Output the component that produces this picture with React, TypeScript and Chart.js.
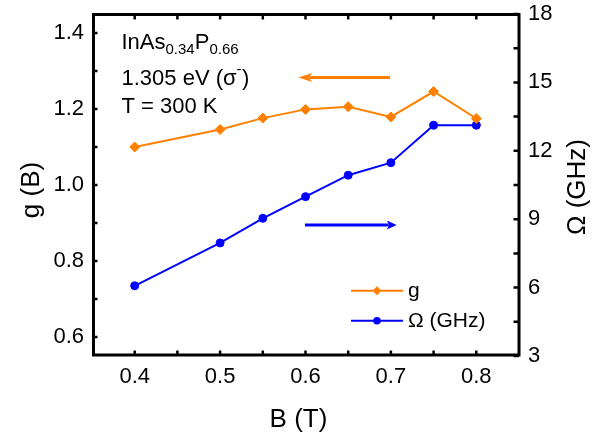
import React, { useEffect, useRef } from 'react';
import { Chart, registerables } from 'chart.js';

Chart.register(...registerables);

// ---- data ----
const bField = [0.4, 0.5, 0.55, 0.6, 0.65, 0.7, 0.75, 0.8];
const gValues = [1.1, 1.146, 1.176, 1.199, 1.206, 1.179, 1.246, 1.175];
const omegaValues = [6.08, 7.96, 9.04, 9.99, 10.93, 11.48, 13.12, 13.12];

const xTicks = [0.4, 0.5, 0.6, 0.7, 0.8];
const xMinorTicks = [0.45, 0.55, 0.65, 0.75];
const gTicks = [0.6, 0.8, 1.0, 1.2, 1.4];
const gMinorTicks = [0.7, 0.9, 1.1, 1.3];
const omegaTicks = [3, 6, 9, 12, 15, 18];
const omegaMinorTicks = [4.5, 7.5, 10.5, 13.5, 16.5];

const seriesLabels = ['g', 'Ω (GHz)'];
const xTitle = 'B (T)';
const gTitle = 'g (B)';
const omegaTitle = 'Ω (GHz)';

// arrows, in data coordinates: [tail x, tip x, y]
const gArrow = [0.699, 0.5916, 1.283];
const omegaArrow = [0.5994, 0.7068, 8.746];

const ORANGE = '#ff8000';
const BLUE = '#0000ff';
const FONT = '"Liberation Sans", Arial, Helvetica, sans-serif';

const decorPlugin = {
  id: 'decor',
  afterDraw(chart: any) {
    const { ctx, chartArea: a, scales } = chart;
    const xs = scales.x;
    const yl = scales.y;
    const yr = scales.y1;
    ctx.save();
    ctx.strokeStyle = '#000';
    ctx.lineCap = 'butt';

    // inward ticks
    const tl = 5.5;
    ctx.lineWidth = 2.5;
    ctx.beginPath();
    [...xTicks, ...xMinorTicks].forEach((v) => {
      const p = xs.getPixelForValue(v);
      ctx.moveTo(p, a.bottom);
      ctx.lineTo(p, a.bottom - tl);
      ctx.moveTo(p, a.top);
      ctx.lineTo(p, a.top + tl);
    });
    [...gTicks, ...gMinorTicks].forEach((v) => {
      const p = yl.getPixelForValue(v);
      ctx.moveTo(a.left, p);
      ctx.lineTo(a.left + tl, p);
    });
    [...omegaTicks, ...omegaMinorTicks].forEach((v) => {
      const p = yr.getPixelForValue(v);
      ctx.moveTo(a.right, p);
      ctx.lineTo(a.right - tl, p);
    });
    ctx.stroke();

    // frame
    ctx.lineWidth = 3;
    ctx.strokeRect(a.left + 1.5, a.top + 0.5, a.right - a.left - 1.5, a.bottom - a.top - 1.5);

    // arrows
    const arrow = (x0: number, x1: number, y: number, color: string, hl: number, hw: number) => {
      ctx.strokeStyle = color;
      ctx.fillStyle = color;
      ctx.lineWidth = 3;
      const dir = Math.sign(x1 - x0);
      ctx.beginPath();
      ctx.moveTo(x0, y);
      ctx.lineTo(x1 - dir * hl * 0.8, y);
      ctx.stroke();
      ctx.beginPath();
      ctx.moveTo(x1, y);
      ctx.lineTo(x1 - dir * hl, y - hw);
      ctx.lineTo(x1 - dir * hl * 0.75, y);
      ctx.lineTo(x1 - dir * hl, y + hw);
      ctx.closePath();
      ctx.fill();
    };
    arrow(xs.getPixelForValue(gArrow[0]), xs.getPixelForValue(gArrow[1]), yl.getPixelForValue(gArrow[2]), ORANGE, 14, 4.5);
    arrow(xs.getPixelForValue(omegaArrow[0]), xs.getPixelForValue(omegaArrow[1]), yr.getPixelForValue(omegaArrow[2]), BLUE, 10, 4.5);

    // annotation text
    ctx.fillStyle = '#000';
    ctx.textAlign = 'left';
    ctx.textBaseline = 'alphabetic';
    const big = `22px ${FONT}`;
    const small = `15px ${FONT}`;
    let x = 121.5;
    const put = (t: string, f: string, y: number) => {
      ctx.font = f;
      ctx.fillText(t, x, y);
      x += ctx.measureText(t).width;
    };
    put('InAs', big, 48.5);
    put('0.34', small, 54);
    put('P', big, 48.5);
    put('0.66', small, 54);
    x = 121.5;
    put('1.305 eV (σ', big, 85);
    put('-', small, 74);
    x += 0.5;
    put(')', big, 85);
    x = 121.5;
    put('T = 300 K', big, 112.5);

    // legend
    const legendItems = [
      { label: seriesLabels[0], color: ORANGE, y: 290.7, style: 'diamond' },
      { label: seriesLabels[1], color: BLUE, y: 320.7, style: 'circle' },
    ];
    legendItems.forEach((it) => {
      ctx.strokeStyle = it.color;
      ctx.fillStyle = it.color;
      ctx.lineWidth = 2;
      ctx.beginPath();
      ctx.moveTo(351, it.y);
      ctx.lineTo(403, it.y);
      ctx.stroke();
      ctx.beginPath();
      if (it.style === 'diamond') {
        const r = 4.5;
        ctx.moveTo(377, it.y - r);
        ctx.lineTo(377 + r, it.y);
        ctx.lineTo(377, it.y + r);
        ctx.lineTo(377 - r, it.y);
        ctx.closePath();
      } else {
        ctx.arc(377, it.y, 3.8, 0, Math.PI * 2);
      }
      ctx.fill();
      ctx.fillStyle = '#000';
      ctx.font = `21px ${FONT}`;
      ctx.textBaseline = 'middle';
      ctx.fillText(it.label, 408, it.y + 1);
    });

    // axis titles
    ctx.fillStyle = '#000';
    ctx.font = `26px ${FONT}`;
    ctx.textAlign = 'center';
    ctx.textBaseline = 'alphabetic';
    ctx.fillText(xTitle, 298.5, 426.5);
    ctx.textBaseline = 'middle';
    ctx.save();
    ctx.translate(32, 190);
    ctx.rotate(-Math.PI / 2);
    ctx.fillText(gTitle, 0, 0);
    ctx.restore();
    ctx.save();
    ctx.translate(578, 187);
    ctx.rotate(-Math.PI / 2);
    ctx.fillText(omegaTitle, 0, 0);
    ctx.restore();

    ctx.restore();
  },
};

export default function App() {
  const ref = useRef<HTMLCanvasElement | null>(null);

  useEffect(() => {
    document.body.style.margin = '0';
    const canvas = ref.current;
    if (!canvas) return;
    Chart.defaults.font.family = FONT;
    Chart.defaults.color = '#000';

    const tickFont = { size: 22, family: FONT };
    const chart = new Chart(canvas, {
      type: 'line',
      data: {
        datasets: [
          {
            label: seriesLabels[0],
            data: bField.map((b, i) => ({ x: b, y: gValues[i] })),
            yAxisID: 'y',
            borderColor: ORANGE,
            backgroundColor: ORANGE,
            borderWidth: 2,
            pointStyle: 'rectRot',
            pointRadius: 5,
            pointBorderWidth: 1,
            tension: 0,
          },
          {
            label: seriesLabels[1],
            data: bField.map((b, i) => ({ x: b, y: omegaValues[i] })),
            yAxisID: 'y1',
            borderColor: BLUE,
            backgroundColor: BLUE,
            borderWidth: 2,
            pointStyle: 'circle',
            pointRadius: 4,
            pointBorderWidth: 1,
            tension: 0,
          },
        ],
      },
      options: {
        responsive: false,
        animation: false,
        layout: { padding: { top: 14, left: 0, right: 0, bottom: 0 } },
        plugins: {
          legend: { display: false },
          tooltip: { enabled: false },
        },
        scales: {
          x: {
            type: 'linear',
            min: 0.35,
            max: 0.85,
            afterBuildTicks: (s: any) => {
              s.ticks = xTicks.map((value) => ({ value }));
            },
            afterFit: (s: any) => {
              s.height = 81;
              s.paddingLeft = 0;
              s.paddingRight = 0;
            },
            ticks: {
              callback: (v: any) => Number(v).toFixed(1),
              font: tickFont,
              color: '#000',
              padding: 8,
              maxRotation: 0,
              autoSkip: false,
            },
            grid: { display: false, drawTicks: false },
            border: { display: false },
          },
          y: {
            type: 'linear',
            position: 'left',
            min: 0.55,
            max: 1.45,
            afterBuildTicks: (s: any) => {
              s.ticks = gTicks.map((value) => ({ value }));
            },
            afterFit: (s: any) => {
              s.width = 92;
              s.paddingTop = 0;
              s.paddingBottom = 0;
            },
            ticks: {
              callback: (v: any) => Number(v).toFixed(1),
              font: tickFont,
              color: '#000',
              padding: 8,
              autoSkip: false,
            },
            grid: { display: false, drawTicks: false },
            border: { display: false },
          },
          y1: {
            type: 'linear',
            position: 'right',
            min: 3,
            max: 18,
            afterBuildTicks: (s: any) => {
              s.ticks = omegaTicks.map((value) => ({ value }));
            },
            afterFit: (s: any) => {
              s.width = 96;
              s.paddingTop = 0;
              s.paddingBottom = 0;
            },
            ticks: {
              callback: (v: any) => String(v),
              font: tickFont,
              color: '#000',
              padding: 9,
              autoSkip: false,
            },
            grid: { display: false, drawTicks: false },
            border: { display: false },
          },
        },
      },
      plugins: [decorPlugin],
    } as any);

    return () => chart.destroy();
  }, []);

  return (
    <div style={{ width: 615, height: 437, background: '#fff' }}>
      <canvas ref={ref} width={615} height={437} style={{ display: 'block' }} />
    </div>
  );
}
